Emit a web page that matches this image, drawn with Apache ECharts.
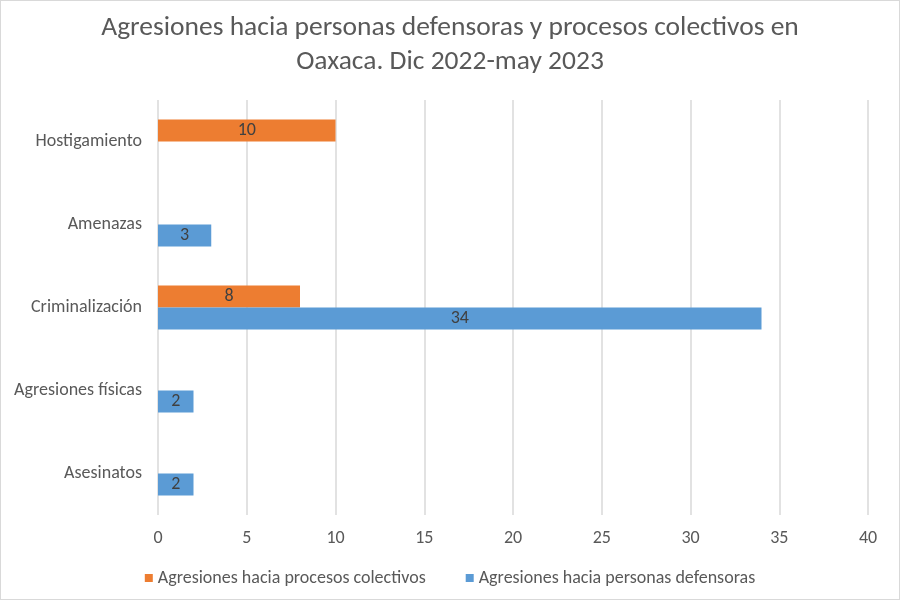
<!DOCTYPE html>
<html><head><meta charset="utf-8">
<script src="https://cdn.jsdelivr.net/npm/echarts@6/dist/echarts.min.js"></script>
<style>html,body{margin:0;padding:0;background:#fff}#c{width:900px;height:600px;box-sizing:border-box;border:1px solid #d9d9d9}</style>
</head><body><div id="c"></div>
<script>
const categories = ['Asesinatos','Agresiones físicas','Criminalización','Amenazas','Hostigamiento'];
const colectivos = [null, null, 8, null, 10];
const defensoras = [2, 2, 34, 3, null];
const xTicks = {min: 0, max: 40, interval: 5};
const seriesNames = ['Agresiones hacia procesos colectivos','Agresiones hacia personas defensoras'];

const chart = echarts.init(document.getElementById('c'));
const font = 'Calibri, Carlito, Lato, sans-serif';
const lbl = {show: true, position: 'inside', color: '#404040', fontSize: 18, fontFamily: font};
chart.setOption({
  animation: false,
  title: {
    text: 'Agresiones hacia personas defensoras y procesos colectivos en\nOaxaca. Dic 2022-may 2023',
    left: 'center', top: 5,
    textStyle: {color: '#595959', fontSize: 27.5, fontWeight: 'normal', fontFamily: font, lineHeight: 34}
  },
  legend: {
    bottom: 7, left: 'center', itemWidth: 8, itemHeight: 8, itemGap: 40,
    icon: 'rect',
    textStyle: {color: '#595959', fontSize: 18, fontFamily: font},
    data: seriesNames
  },
  grid: {left: 157, right: 31, top: 99, bottom: 84, containLabel: false},
  xAxis: {
    type: 'value', min: xTicks.min, max: xTicks.max, interval: xTicks.interval,
    axisLine: {show: false}, axisTick: {show: false},
    axisLabel: {color: '#595959', fontSize: 18, fontFamily: font, margin: 14},
    splitLine: {lineStyle: {color: '#d9d9d9', width: 1.5}}
  },
  yAxis: {
    type: 'category', data: categories,
    axisLine: {show: false}, axisTick: {show: false},
    axisLabel: {color: '#595959', fontSize: 18, fontFamily: font, margin: 16}
  },
  series: [
    {name: seriesNames[0], type: 'bar', data: colectivos, itemStyle: {color: '#ED7D31'},
     barGap: '0%', barCategoryGap: '47%', label: lbl},
    {name: seriesNames[1], type: 'bar', data: defensoras, itemStyle: {color: '#5B9BD5'},
     barGap: '0%', barCategoryGap: '47%', label: lbl}
  ]
});
</script></body></html>
